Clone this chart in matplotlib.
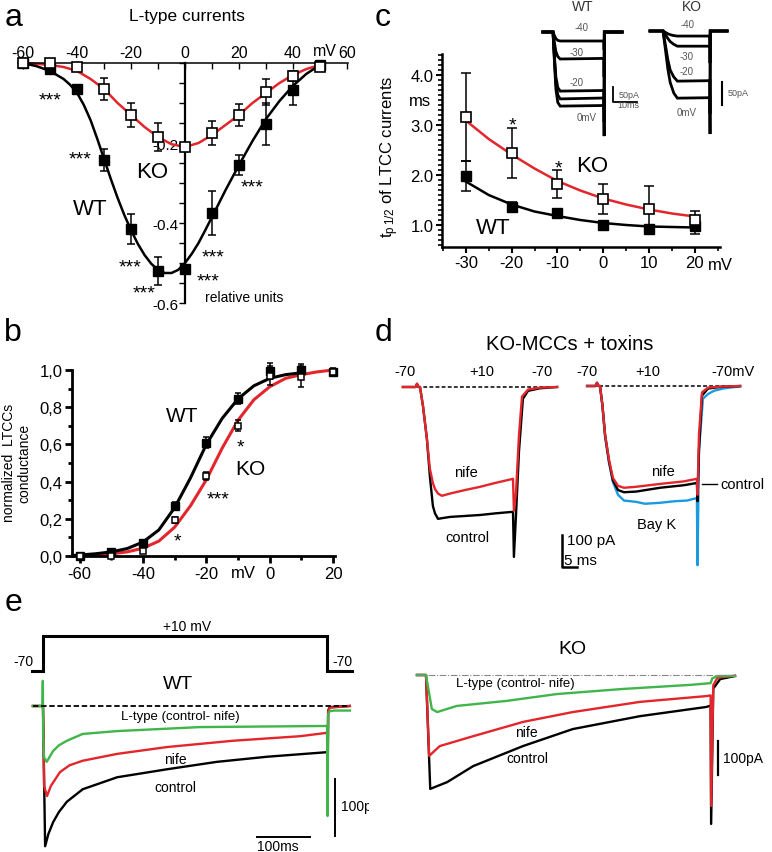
#%% Imports
import matplotlib
matplotlib.use('Agg')
import matplotlib.pyplot as plt
from matplotlib.ticker import MultipleLocator, FixedLocator, FuncFormatter

plt.rcParams['font.family'] = ['Liberation Sans', 'DejaVu Sans']
plt.rcParams['axes.unicode_minus'] = False
plt.rcParams['mathtext.fontset'] = 'custom'
plt.rcParams['mathtext.rm'] = 'Liberation Sans'
plt.rcParams['mathtext.default'] = 'regular'

W, H = 772, 853
RED = '#e3262b'
GREEN = '#3fb54a'
BLUE = '#1a9be0'
GREY = '#555555'

#%% Data
# (a) L-type I-V relation, relative units
iv_mv = [-60, -50, -40, -30, -20, -10, 0, 10, 20, 30, 40, 50]
iv_wt = [0.0, -0.015, -0.065, -0.243, -0.415, -0.52, -0.515, -0.375, -0.255, -0.153, -0.067, -0.005]
iv_wt_err = [0.0, 0.0, 0.0, 0.027, 0.037, 0.035, 0.0, 0.055, 0.025, 0.053, 0.037, 0.0]
iv_ko = [0.0, 0.0, -0.01, -0.065, -0.13, -0.185, -0.21, -0.175, -0.13, -0.073, -0.032, -0.01]
iv_ko_err = [0.0, 0.0, 0.0, 0.027, 0.03, 0.035, 0.0, 0.03, 0.027, 0.033, 0.012, 0.0]
iv_fit_wt_mv = [-60, -55, -50, -45, -42.5, -40, -37.5, -35, -32.5, -30, -27.5, -25, -22.5, -20,
                -17.5, -15, -12.5, -10, -7.5, -5, -2.5, 0, 2.5, 5, 7.5, 10,
                15, 20, 25, 30, 35, 40, 45, 50]
iv_fit_wt = [0.0, -0.008, -0.02, -0.04, -0.055, -0.075, -0.105, -0.143, -0.19, -0.24, -0.29, -0.337, -0.38, -0.418,
             -0.452, -0.48, -0.502, -0.517, -0.525, -0.525, -0.517, -0.5, -0.477, -0.45, -0.418, -0.385,
             -0.318, -0.255, -0.195, -0.14, -0.095, -0.057, -0.027, -0.005]
iv_fit_ko_mv = [-60, -55, -50, -45, -40, -35, -30, -25, -20, -15, -10, -5, 0,
                5, 10, 15, 20, 25, 30, 35, 40, 45, 50]
iv_fit_ko = [0.0, -0.002, -0.005, -0.01, -0.02, -0.04, -0.065, -0.1, -0.13, -0.16, -0.185, -0.203, -0.21,
             -0.2, -0.18, -0.155, -0.13, -0.1, -0.075, -0.05, -0.03, -0.015, -0.005]

# (b) normalized LTCC conductance
g_mv = [-60, -50, -40, -30, -20, -10, 0, 10, 20]
g_wt = [0.0, 0.02, 0.07, 0.27, 0.61, 0.845, 0.995, 1.0, 0.99]
g_wt_err = [0.0, 0.0, 0.0, 0.02, 0.03, 0.03, 0.045, 0.03, 0.0]
g_ko = [0.0, 0.0, 0.025, 0.195, 0.43, 0.70, 0.97, 0.965, 0.99]
g_ko_err = [0.0, 0.0, 0.0, 0.015, 0.02, 0.03, 0.05, 0.055, 0.02]
g_fit_mv = [-62, -60, -55, -50, -45, -40, -35, -30, -25, -20, -15, -10, -5, 0, 5, 10, 15, 20]
g_fit_wt = [0.003, 0.005, 0.012, 0.022, 0.04, 0.075, 0.14, 0.26, 0.42, 0.6, 0.74, 0.845, 0.915, 0.955, 0.975, 0.985]
g_fit_ko = [0.002, 0.003, 0.006, 0.012, 0.022, 0.042, 0.08, 0.155, 0.27, 0.41, 0.58, 0.73, 0.84, 0.91, 0.955, 0.975, 0.99, 1.0]

# (c) time to half peak
tp_mv = [-30, -20, -10, 0, 10, 20]
tp_wt = [1.98, 1.36, 1.24, 1.01, 0.92, 0.98]
tp_wt_err = [0.3, 0.1, 0.05, 0.04, 0.08, 0.15]
tp_ko = [3.16, 2.44, 1.82, 1.52, 1.33, 1.10]
tp_ko_err = [0.88, 0.5, 0.28, 0.3, 0.45, 0.18]
tp_fit_mv = [-30, -25, -20, -15, -10, -5, 0, 5, 10, 15, 20]
tp_fit_wt = [1.87, 1.6, 1.41, 1.27, 1.18, 1.1, 1.04, 1.0, 0.97, 0.96, 0.95]
tp_fit_ko = [3.09, 2.72, 2.41, 2.13, 1.88, 1.69, 1.53, 1.41, 1.31, 1.23, 1.17]

# (c) inset traces, ms / pA
ins_t_wt = [-4.2, 0, 0.6, 1.2, 2.0, 3.0, 21.2, 21.3, 21.4, 28.8]
ins_wt = {'-40': [0, 0, -12, -22, -28, -30, -30, -60, 0, 0],
          '-30': [0, 0, -35, -65, -82, -90, -88, -150, 0, 0],
          '-20': [0, 0, -80, -150, -185, -197, -195, -260, 0, 0],
          '-10': [0, 0, -90, -170, -210, -223, -220, -300, 0, 0],
          '0': [0, 0, -100, -190, -235, -247, -245, -347, 0, 0]}
ins_t_ko = [-5.4, 0, 1, 2, 3, 4.5, 6, 19.5, 19.6, 19.7, 26.7]
ins_ko = {'-40': [0, 0, -3, -6, -8, -10, -11, -11, -30, 0, 0],
          '-30': [0, 0, -8, -16, -23, -29, -33, -33, -70, 0, 0],
          '-20': [0, 0, -30, -62, -85, -100, -109, -108, -180, 0, 0],
          '0': [0, 0, -40, -82, -112, -135, -146, -145, -224, 0, 0]}

# (d) KO-MCCs + toxins, ms / pA
d_left_ctl_t = [-5.7, -1.5, -1.0, -0.5, 0.0, 1.0, 2.3, 3.3, 4.3, 5.0, 6.0, 7.3, 10, 15, 20, 25, 31.0, 31.3, 32.0, 33.0, 34.3, 36.0, 40.0, 45.7]
d_left_ctl = [0, 0, 10, 0, 0, -60, -162, -280, -372, -395, -412, -410, -406, -403, -400, -395, -390, -531, -400, -200, -37, -12, -4, 0]
d_left_nife_t = [-5.7, -1.5, -1.0, -0.5, 0.0, 1.0, 2.3, 3.3, 4.3, 5.0, 6.0, 7.3, 10, 15, 20, 25, 31.0, 31.3, 32.0, 33.0, 34.0, 36.0, 40.0, 45.7]
d_left_nife = [0, 0, 10, 0, 0, -60, -162, -256, -300, -319, -333, -340, -333, -322, -312, -300, -287, -387, -330, -150, -30, -8, -2, 0]
d_right_bay_t = [-4.3, -1.5, -1.0, -0.5, 0, 0.8, 1.7, 3.0, 4.3, 6.0, 8.0, 12, 15, 20, 25, 29, 32.3, 32.5, 33.0, 34.3, 36.0, 38.0, 41.0, 44.0, 46.7]
d_right_bay = [0, 0, 10, 0, 0, -60, -160, -240, -300, -340, -358, -362, -368, -365, -360, -358, -350, -560, -200, -40, -25, -15, -8, -4, -2]
d_right_t = [-4.3, -1.5, -1.0, -0.5, 0, 0.8, 1.7, 3.0, 4.3, 6.0, 8, 12, 20, 28, 32.3, 32.5, 33.0, 34.0, 36.0, 40, 46.7]
d_right_ctl = [0, 0, 10, 0, 0, -60, -153, -235, -295, -325, -332, -330, -318, -310, -303, -360, -200, -30, -8, -3, 0]
d_right_nife = [0, 0, 10, 0, 0, -60, -153, -230, -287, -312, -318, -315, -306, -298, -290, -340, -150, -20, -5, -2, 0]

# (e) long pulses, ms / pA
prot_t = [-21, 0, 0, 536, 536, 583]
prot_mv = [-70, -70, 10, 10, -70, -70]
e_wt_green_t = [-19, -1, -0.3, 0.3, 2, 7, 19, 30, 45, 75, 140, 296, 536, 537, 538, 541, 550, 579]
e_wt_green = [0, 0, 44, -50, -90, -98, -79, -69, -61, -49, -44, -37, -35, -193, -15, -9, -8, -8]
e_wt_red_t = [-19, -1, 0, 2, 7.5, 15, 32, 50, 75, 140, 234, 358, 485, 536, 537, 538, 541, 579]
e_wt_red = [0, 0, 0, -140, -158, -140, -116, -104, -96, -84, -72, -61, -53, -47, -145, -10, -3, 0]
e_wt_black_t = [-19, -1, 0, 4, 10, 19, 30, 45, 75, 140, 234, 328, 423, 536, 537, 538, 541, 579]
e_wt_black = [0, 0, 0, -246, -225, -204, -186, -168, -146, -125, -111, -98, -89, -81, -120, -8, -2, 0]
e_ko_green_t = [-17, -1, 0, 11, 21, 58, 153, 247, 372, 499, 537, 540, 550, 583]
e_ko_green = [0, 0, 0, -100, -109, -91, -76, -56, -41, -29, -24, -10, -3, -3]
e_ko_red_t = [-17, -1, 0, 6, 26, 89, 183, 277, 404, 529, 537, 538, 542, 550, 583]
e_ko_red = [0, 0, 0, -238, -209, -180, -138, -109, -79, -62, -60, -385, -30, -8, -2]
e_ko_black_t = [-17, -1, 0, 8, 40, 89, 183, 277, 404, 529, 537, 538, 542, 555, 583]
e_ko_black = [0, 0, 0, -335, -315, -268, -209, -159, -121, -94, -90, -438, -40, -12, -3]


#%% Helpers
fig = plt.figure(figsize=(W / 100, H / 100), dpi=100)


def px_box(x0, y0, x1, y1):
    return [x0 / W, 1 - y1 / H, (x1 - x0) / W, (y1 - y0) / H]


def ftext(x, y, s, size, **kw):
    kw.setdefault('ha', 'center')
    kw.setdefault('va', 'center')
    return fig.text(x / W, 1 - y / H, s, fontsize=size, **kw)


def trace_axes(box, t0_px, px_per_ms, base_px, px_per_unit):
    x0, y0, x1, y1 = box
    ax = fig.add_axes(px_box(*box))
    ax.set_xlim((x0 - t0_px) / px_per_ms, (x1 - t0_px) / px_per_ms)
    ax.set_ylim(-(y1 - base_px) / px_per_unit, -(y0 - base_px) / px_per_unit)
    ax.axis('off')
    ax.patch.set_visible(False)
    return ax


def stars(x, y, s, size=14):
    # asterisks sit high in the glyph box
    ftext(x, y + 5, s, size)


#%% (a) I-V curves
ax = fig.add_axes(px_box(18, 64, 348, 304))
ax.set_xlim(-61.9, 60.4)
ax.set_ylim(-0.6, 0)
ax.spines['left'].set_position(('data', 0))
ax.spines['left'].set_linewidth(1.6)
ax.spines['top'].set_linewidth(1.1)
ax.spines['right'].set_visible(False)
ax.spines['bottom'].set_visible(False)
ax.xaxis.tick_top()
ax.xaxis.set_major_locator(FixedLocator([-60, -40, -20, 0, 20, 40, 60]))
ax.xaxis.set_minor_locator(MultipleLocator(10))
ax.yaxis.set_major_locator(FixedLocator([-0.2, -0.4, -0.6]))
ax.yaxis.set_minor_locator(MultipleLocator(0.05))
ax.yaxis.set_major_formatter(FuncFormatter(lambda v, p: f'{v:.1f}'))
ax.tick_params(axis='x', which='both', direction='in', length=4, width=1, labelsize=11.5, pad=2)
ax.tick_params(axis='y', which='both', direction='out', length=4, width=1, labelsize=11, pad=1)
ax.patch.set_visible(False)
ax.plot(iv_fit_ko_mv, iv_fit_ko, color=RED, lw=1.8, zorder=2, clip_on=False)
ax.plot(iv_fit_wt_mv, iv_fit_wt, color='k', lw=1.8, zorder=2, clip_on=False)
ax.errorbar(iv_mv, iv_ko, yerr=iv_ko_err, fmt='none', ecolor='k', elinewidth=1.1, capsize=3, capthick=1.1, zorder=3, clip_on=False)
ax.errorbar(iv_mv, iv_wt, yerr=iv_wt_err, fmt='none', ecolor='k', elinewidth=1.1, capsize=3, capthick=1.1, zorder=3, clip_on=False)
ax.plot(iv_mv, iv_wt, 's', color='k', ms=6.5, zorder=4, clip_on=False)
ax.plot(iv_mv, iv_ko, 's', mfc='white', mec='k', mew=1.2, ms=6.5, zorder=5, clip_on=False)

ftext(14, 18, 'a', 23)
ftext(187, 17, 'L-type currents', 12.5)
ftext(325, 52, 'mV', 11.5)
ftext(152, 172, 'KO', 16)
ftext(90, 210, 'WT', 16)
ftext(244, 298, 'relative units', 10)
for x, y in [(50, 96), (80, 155), (130, 263), (144, 289), (213, 253), (208, 277), (252, 183)]:
    stars(x, y, '***')

#%% (b) conductance
ax = fig.add_axes(px_box(72, 371, 335, 557))
ax.set_xlim(-62.4, 20.6)
ax.set_ylim(0, 1.0)
for s in ['top', 'right']:
    ax.spines[s].set_visible(False)
for s in ['left', 'bottom']:
    ax.spines[s].set_linewidth(2.0)
ax.xaxis.set_major_locator(MultipleLocator(20))
ax.xaxis.set_minor_locator(MultipleLocator(10))
ax.yaxis.set_major_locator(MultipleLocator(0.2))
ax.yaxis.set_minor_locator(MultipleLocator(0.1))
ax.yaxis.set_major_formatter(FuncFormatter(lambda v, p: f'{v:.1f}'.replace('.', ',')))
ax.tick_params(which='major', direction='out', length=5, width=2, labelsize=12, pad=2)
ax.tick_params(which='minor', direction='out', length=3, width=2)
ax.plot(g_fit_mv, g_fit_ko, color=RED, lw=2.2, zorder=2, clip_on=False)
ax.plot(g_fit_mv[:len(g_fit_wt)], g_fit_wt, color='k', lw=2.2, zorder=2, clip_on=False)
ax.errorbar(g_mv, g_wt, yerr=g_wt_err, fmt='none', ecolor='k', elinewidth=1.1, capsize=2.5, capthick=1.1, zorder=3, clip_on=False)
ax.errorbar(g_mv, g_ko, yerr=g_ko_err, fmt='none', ecolor='k', elinewidth=1.1, capsize=2.5, capthick=1.1, zorder=3, clip_on=False)
ax.plot(g_mv, g_wt, 's', color='k', ms=5.5, zorder=4, clip_on=False)
ax.plot(g_mv, g_ko, 's', mfc='white', mec='k', mew=1.1, ms=5, zorder=5, clip_on=False)

ftext(13, 333, 'b', 23)
ftext(17, 463, 'normalized  LTCCs\nconductance', 10, rotation=90, linespacing=1.1)
ftext(243, 573, 'mV', 12)
ftext(182, 417, 'WT', 15)
ftext(250, 470, 'KO', 15)
stars(240, 443, '*')
stars(218, 495, '***')
stars(177, 537, '*')

#%% (c) time to half peak
ax = fig.add_axes(px_box(442, 55, 720, 248))
ax.set_xlim(-35.2, 25.5)
ax.set_ylim(0.56, 4.42)
for s in ['top', 'right']:
    ax.spines[s].set_visible(False)
for s in ['left', 'bottom']:
    ax.spines[s].set_linewidth(1.8)
ax.xaxis.set_major_locator(MultipleLocator(10))
ax.xaxis.set_minor_locator(MultipleLocator(5))
ax.yaxis.set_major_locator(FixedLocator([1, 2, 3, 4]))
ax.yaxis.set_minor_locator(MultipleLocator(0.1))
ax.yaxis.set_major_formatter(FuncFormatter(lambda v, p: f'{v:.1f}'))
ax.tick_params(which='major', direction='out', length=4, width=1.5, labelsize=12, pad=2)
ax.tick_params(which='minor', direction='out', length=3, width=1.2)
ax.patch.set_visible(False)
ax.plot(tp_fit_mv, tp_fit_ko, color=RED, lw=1.8, zorder=2)
ax.plot(tp_fit_mv, tp_fit_wt, color='k', lw=1.8, zorder=2)
ax.errorbar(tp_mv, tp_ko, yerr=tp_ko_err, fmt='none', ecolor='k', elinewidth=1.1, capsize=3.5, capthick=1.1, zorder=3)
ax.errorbar(tp_mv, tp_wt, yerr=tp_wt_err, fmt='none', ecolor='k', elinewidth=1.1, capsize=3.5, capthick=1.1, zorder=3)
ax.plot(tp_mv, tp_wt, 's', color='k', ms=7, zorder=4)
ax.plot(tp_mv, tp_ko, 's', mfc='white', mec='k', mew=1.2, ms=7.5, zorder=5)

ftext(383, 18, 'c', 23)
ftext(390, 157, r't$_{\mathrm{p\,1/2}}$ of LTCC currents', 12, rotation=90)
ftext(420, 102, 'ms', 12)
ftext(720, 265, 'mV', 12)
ftext(592, 167, 'KO', 16)
ftext(493, 229, 'WT', 16)
stars(512, 121, '*')
stars(558, 164, '*')

# insets
ax = trace_axes((538, 25, 645, 142), 553, 2.4, 33, 0.3)
for k, v in ins_wt.items():
    ax.plot(ins_t_wt, v, color='k', lw=2.0, solid_joinstyle='miter')
ax.plot([25, 25, 35], [-183, -233, -233], color='k', lw=1.3, clip_on=False)
ax = trace_axes((645, 25, 750, 142), 663, 2.4, 32, 0.46)
for k, v in ins_ko.items():
    ax.plot(ins_t_ko, v, color='k', lw=2.0, solid_joinstyle='miter')
ax.plot([24.6, 24.6], [-111, -161], color='k', lw=1.5, clip_on=False)

ftext(583, 7, 'WT', 10, color='#333333')
ftext(692, 7, 'KO', 10, color='#333333')
for x, y, s in [(582, 28, '-40'), (577, 53, '-30'), (577, 83, '-20'), (587, 118, '0mV'),
                (688, 25, '-40'), (687, 57, '-30'), (687, 72, '-20'), (687, 113, '0mV')]:
    ftext(x, y, s, 7, color=GREY)
ftext(629, 96, '50pA', 6.5, color=GREY)
ftext(628, 105, '10ms', 6.5, color=GREY)
ftext(738, 93, '50pA', 6.5, color=GREY)

#%% (d) KO-MCCs + toxins
ax = trace_axes((395, 375, 565, 575), 420, 3.0, 388, 0.32)
ax.plot([-5.0, 45.7], [0, 0], ls=(0, (2.5, 1.5)), color='k', lw=1.1)
ax.plot(d_left_ctl_t, d_left_ctl, color='k', lw=1.7)
ax.plot(d_left_nife_t, d_left_nife, color=RED, lw=1.7)
ax.plot([47.3, 47.3, 52.3], [-462.5, -562.5, -562.5], color='k', lw=1.8, clip_on=False)

ax = trace_axes((580, 375, 772, 575), 600, 3.0, 387, 0.32)
ax.plot([-4.3, 46.7], [0, 0], ls=(0, (2.5, 1.5)), color='k', lw=1.1)
ax.plot(d_right_bay_t, d_right_bay, color=BLUE, lw=1.7)
ax.plot(d_right_t, d_right_ctl, color='k', lw=1.7)
ax.plot(d_right_t, d_right_nife, color=RED, lw=1.7)
ax.plot([34, 39], [-306, -306], color='k', lw=1.0)

ftext(383, 333, 'd', 23)
ftext(570, 345, 'KO-MCCs + toxins', 14.5)
for x, s in [(405, '-70'), (482, '+10'), (542, '-70'), (587, '-70'), (648, '+10'), (733, '-70mV')]:
    ftext(x, 372, s, 10.5)
ftext(466, 473, 'nife', 10.5)
ftext(467, 538, 'control', 10.5)
ftext(663, 472, 'nife', 10.5)
ftext(720, 485, 'control', 10.5, ha='left')
ftext(657, 525, 'Bay K', 10.5)
ftext(567, 541, '100 pA', 11, ha='left')
ftext(580, 561, '5 ms', 11)

#%% (e) long depolarisations
ax = trace_axes((20, 625, 362, 680), 43, 0.53, 641.4, 0.4375)
ax.plot(prot_t, prot_mv, color='k', lw=2.2, solid_joinstyle='miter')
ftext(13, 603, 'e', 23)
ftext(187, 627, '+10 mV', 10)
ftext(23, 662, '-70', 10)
ftext(342, 662, '-70', 10)

ax = trace_axes((0, 640, 369, 853), 43, 0.53, 707, 0.57)
ax.plot([-19, 579], [0, 0], ls=(0, (3, 1.5)), color='k', lw=1.3, zorder=5)
ax.plot(e_wt_black_t, e_wt_black, color='k', lw=1.7)
ax.plot(e_wt_red_t, e_wt_red, color=RED, lw=1.7)
ax.plot(e_wt_green_t, e_wt_green, color=GREEN, lw=1.7)
ax.plot([551, 551], [-128, -228], color='k', lw=1.4)
ax.plot([404, 504], [-230, -230], color='k', lw=1.4)
ax.text(341 / W, 1 - 807 / H, '100pA', fontsize=10, ha='left', va='center',
        transform=fig.transFigure, clip_on=True)
ftext(178, 685, 'WT', 14)
ftext(180, 717, 'L-type (control- nife)', 9.5)
ftext(175, 760, 'nife', 10)
ftext(175, 788, 'control', 10)
ftext(278, 847, '100ms', 10)

ax = trace_axes((395, 640, 772, 853), 426, 0.53, 676, 0.34)
ax.plot([-17, 583], [0, 0], ls=(0, (6, 1.5, 1, 1.5)), color='#888888', lw=0.8, zorder=5)
ax.plot(e_ko_black_t, e_ko_black, color='k', lw=1.7)
ax.plot(e_ko_red_t, e_ko_red, color=RED, lw=1.7)
ax.plot(e_ko_green_t, e_ko_green, color=GREEN, lw=1.7)
ax.plot([551, 551], [-194, -294], color='k', lw=1.6)
ftext(572, 650, 'KO', 14)
ftext(515, 684, 'L-type (control- nife)', 9.5)
ftext(526, 733, 'nife', 10)
ftext(527, 759, 'control', 10)
ftext(743, 759, '100pA', 10)

fig.savefig('out.png', dpi=100)
